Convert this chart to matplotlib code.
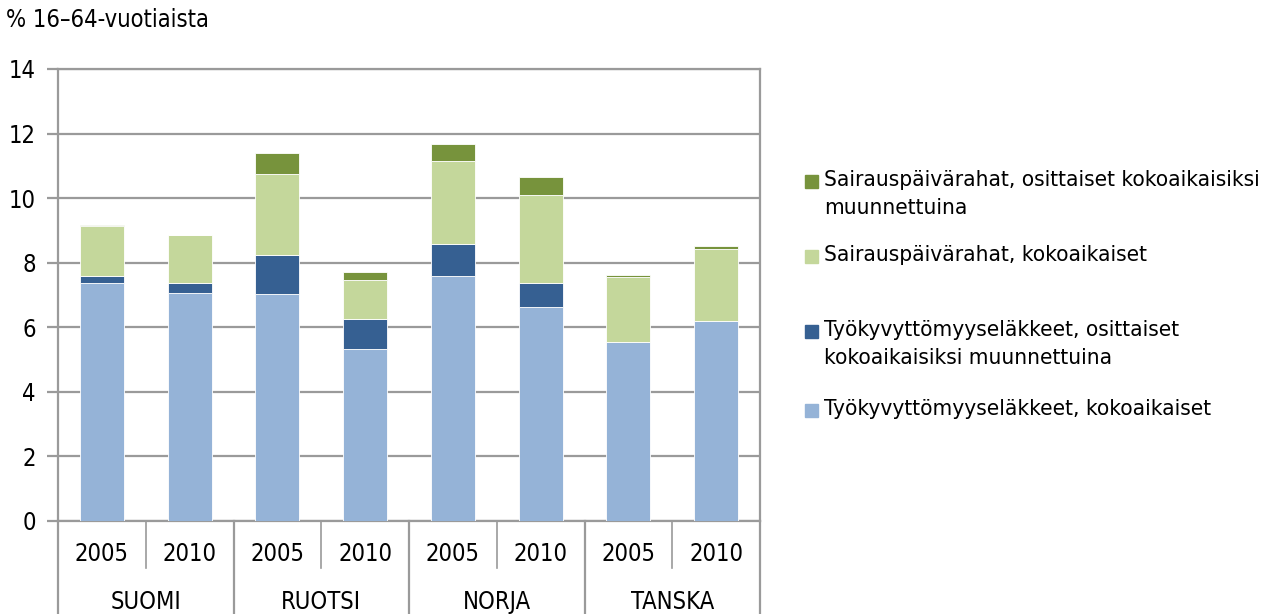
import matplotlib.pyplot as plt
import matplotlib.transforms as mtransforms
from matplotlib.patches import Rectangle
import numpy as np

plt.rcParams['font.family'] = ['DejaVu Sans']
plt.rcParams['font.stretch'] = 'condensed'

countries = ["SUOMI", "RUOTSI", "NORJA", "TANSKA"]
years = ["2005", "2010"]

# työkyvyttömyyseläkkeet kokoaikaiset, osittaiset; sairauspäivärahat kokoaikaiset, osittaiset
tk_koko = [7.38, 7.07, 7.03, 5.33, 7.59, 6.64, 5.53, 6.20]
tk_osit = [0.22, 0.29, 1.22, 0.93, 0.99, 0.74, 0.00, 0.00]
sp_koko = [1.55, 1.49, 2.50, 1.21, 2.57, 2.71, 2.02, 2.23]
sp_osit = [0.02, 0.00, 0.66, 0.24, 0.54, 0.57, 0.06, 0.08]

labels = ["Työkyvyttömyyseläkkeet, kokoaikaiset",
          "Työkyvyttömyyseläkkeet, osittaiset\nkokoaikaisiksi muunnettuina",
          "Sairauspäivärahat, kokoaikaiset",
          "Sairauspäivärahat, osittaiset kokoaikaisiksi\nmuunnettuina"]
colors = ["#95B3D7", "#366092", "#C4D79B", "#77933C"]

fig = plt.figure(figsize=(12.65, 6.14), dpi=100)
ax = fig.add_axes([58 / 1265, 93 / 614, 702 / 1265, 452 / 614])

x = np.arange(len(tk_koko))
bottom = np.zeros(len(x))
for vals, c in zip([tk_koko, tk_osit, sp_koko, sp_osit], colors):
    ax.bar(x, vals, 0.5, bottom=bottom, color=c, edgecolor="white", linewidth=0.6, zorder=3)
    bottom += np.array(vals)

ax.set_xlim(-0.5, len(x) - 0.5)
ax.set_ylim(0, 14)
ax.set_yticks(range(0, 15, 2))
ax.yaxis.grid(True, color="#9a9a9a", linewidth=1.6, zorder=0)
for s in ax.spines.values():
    s.set_color("#9a9a9a")
    s.set_linewidth(1.6)
ax.tick_params(axis="y", length=8, width=1.6, color="#9a9a9a", labelsize=17, pad=8)

# kaksitasoinen x-akseli
ax.set_xticks(x)
ax.set_xticklabels(years * len(countries), fontsize=17)
ax.tick_params(axis="x", length=0, pad=15)
trans = mtransforms.blended_transform_factory(ax.transData, ax.transAxes)
for i in range(len(x) + 1):
    xp = i - 0.5
    y_end = -0.205 if i % 2 == 0 else -0.105
    ax.plot([xp, xp], [0, y_end], transform=trans, color="#9a9a9a",
            linewidth=1.2 if i % 2 else 1.6, clip_on=False)
for j, c in enumerate(countries):
    ax.text(2 * j + 0.5, -0.18, c, transform=trans, ha="center", va="center", fontsize=17)

fig.text(6 / 1265, 1 - 20 / 614, "% 16–64-vuotiaista", fontsize=17, va="center", ha="left")

# selite
leg_y = [182, 257, 332, 411]
order = [3, 2, 1, 0]
for yy, k in zip(leg_y, order):
    fig.patches.append(Rectangle((805 / 1265, 1 - (yy + 6) / 614), 13 / 1265, 13 / 614,
                                 transform=fig.transFigure, color=colors[k]))
    fig.text(824 / 1265, 1 - (yy - 12) / 614, labels[k], fontsize=16.2, va="top", ha="left",
             linespacing=1.5)

fig.savefig("out.png", dpi=100)
